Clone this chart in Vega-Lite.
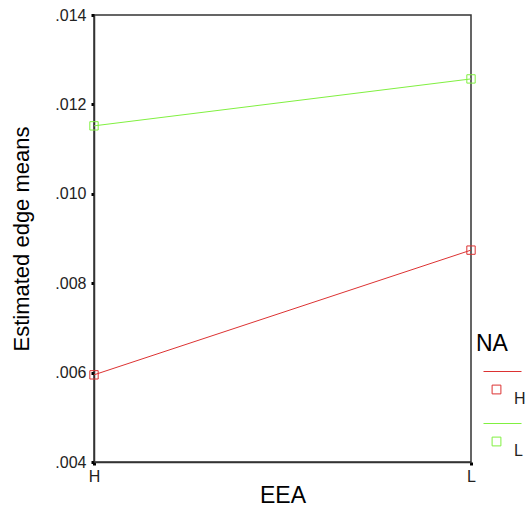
{
  "$schema": "https://vega.github.io/schema/vega-lite/v6.json",
  "width": 377,
  "height": 447,
  "autosize": "none",
  "padding": {"left": 94, "top": 15, "right": 56, "bottom": 46},
  "data": {"values": [
    {"EEA": "H", "NA": "H", "mean": 0.00595},
    {"EEA": "L", "NA": "H", "mean": 0.00874},
    {"EEA": "H", "NA": "L", "mean": 0.01152},
    {"EEA": "L", "NA": "L", "mean": 0.01257}
  ]},
  "config": {
    "font": "Liberation Sans",
    "view": {"stroke": "#333", "strokeWidth": 1.5},
    "axis": {"grid": false, "domainColor": "#333", "domainWidth": 1.5, "tickColor": "#000", "tickSize": 3, "tickWidth": 3, "labelFont": "Liberation Sans", "labelFontSize": 16, "labelColor": "#222", "titleFont": "Liberation Sans", "titleFontSize": 22, "titleFontWeight": "normal", "titleColor": "#000"},
    "legend": {"titleFont": "Liberation Sans", "titleFontSize": 23, "titleFontWeight": "normal", "labelFont": "Liberation Sans", "labelFontSize": 16, "labelColor": "#222"}
  },
  "encoding": {
    "x": {"field": "EEA", "type": "nominal", "scale": {"type": "point", "padding": 0}, "axis": {"title": "EEA", "labelAngle": 0, "labelPadding": 3, "titlePadding": 0, "titleFontSize": 23}},
    "y": {"field": "mean", "type": "quantitative", "scale": {"domain": [0.004, 0.014], "nice": false, "zero": false}, "axis": {"title": "Estimated edge means", "values": [0.004, 0.006, 0.008, 0.01, 0.012, 0.014], "labelExpr": "replace(format(datum.value, '.3f'), '0.', '.')", "labelPadding": 5, "titlePadding": 21}},
    "color": {"field": "NA", "type": "nominal", "scale": {"domain": ["H", "L"], "range": ["#dc3232", "#80f040"]},
      "legend": {"title": "NA", "orient": "none", "legendX": 382, "legendY": 318, "symbolType": "M-0.65,-1.35H1.25M-0.22,-0.67H0.22V-0.23H-0.22Z", "symbolSize": 1600, "symbolStrokeWidth": 1, "symbolFillColor": "transparent", "labelOffset": -3, "rowPadding": 14, "titlePadding": 22}}
  },
  "layer": [
    {"mark": {"type": "line", "strokeWidth": 1}},
    {"mark": {"type": "point", "shape": "square", "filled": false, "size": 70, "strokeWidth": 1, "opacity": 1, "clip": false}}
  ]
}
